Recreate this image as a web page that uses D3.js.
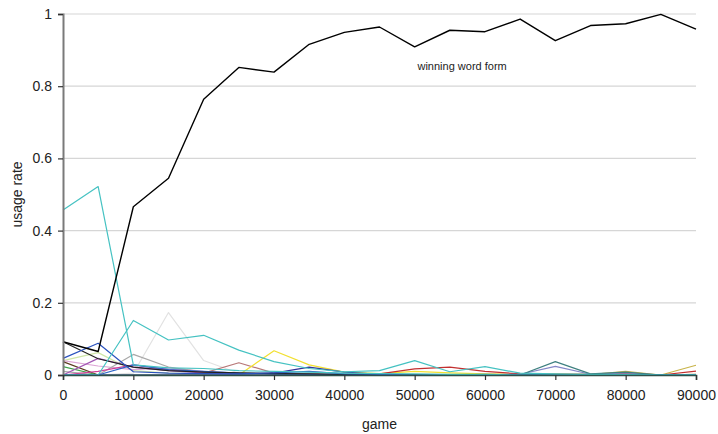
<!DOCTYPE html>
<html>
<head>
<meta charset="utf-8">
<script src="https://cdn.jsdelivr.net/npm/d3@7/dist/d3.min.js"></script>
<style>
  html, body { margin: 0; padding: 0; background: #fff; }
  svg text { font-family: "Liberation Sans", Arial, sans-serif; fill: #222; }
</style>
</head>
<body>
<svg id="chart" width="718" height="434"></svg>
<script>
// Game checkpoints (x axis)
const games = [0, 5000, 10000, 15000, 20000, 25000, 30000, 35000, 40000, 45000,
               50000, 55000, 60000, 65000, 70000, 75000, 80000, 85000, 90000];

// Usage rate of each word form at every checkpoint
const winning   = [0.092, 0.065, 0.466, 0.545, 0.764, 0.852, 0.839, 0.916, 0.949, 0.964, 0.909, 0.955, 0.951, 0.986, 0.926, 0.968, 0.973, 0.999, 0.958];
const cyanEarly = [0.457, 0.522, 0.028, 0.020, 0.018, 0.012, 0.010, 0.008, 0.005, 0.004, 0.003, 0.002, 0.002, 0, 0, 0, 0, 0, 0];
const cyanLate  = [0, 0, 0.151, 0.097, 0.110, 0.069, 0.037, 0.018, 0.009, 0.012, 0.040, 0.009, 0.023, 0.005, 0.003, 0.002, 0.001, 0, 0];
const blackLost = [0.092, 0.045, 0.022, 0.012, 0.008, 0.006, 0.004, 0.003, 0.002, 0.001, 0, 0, 0, 0, 0, 0, 0, 0, 0];
const blue      = [0.046, 0.088, 0.009, 0.005, 0.004, 0.003, 0.006, 0.010, 0.003, 0.002, 0, 0, 0, 0, 0, 0, 0, 0, 0];
const blue2     = [0, 0, 0.028, 0.015, 0.010, 0.005, 0.003, 0.002, 0.001, 0, 0, 0, 0, 0, 0, 0, 0, 0, 0];
const paleGreen = [0.040, 0.062, 0.012, 0.005, 0.003, 0, 0, 0, 0, 0, 0, 0, 0, 0, 0, 0, 0, 0, 0];
const purple    = [0, 0.046, 0.022, 0.012, 0.006, 0.003, 0.002, 0, 0, 0, 0, 0, 0, 0, 0, 0, 0, 0, 0];
const pink      = [0.040, 0.025, 0.015, 0.020, 0.010, 0.005, 0.002, 0, 0, 0, 0, 0, 0, 0, 0, 0, 0, 0, 0];
const magenta   = [0, 0.010, 0.028, 0.015, 0.008, 0.004, 0.002, 0, 0, 0, 0, 0, 0, 0, 0, 0, 0, 0, 0];
const brown     = [0.037, 0, 0, 0, 0, 0, 0, 0, 0, 0, 0, 0, 0, 0, 0, 0, 0, 0, 0];
const green     = [0.023, 0, 0, 0, 0, 0, 0, 0, 0, 0, 0, 0, 0, 0, 0, 0, 0, 0, 0];
const gray      = [0.010, 0, 0.057, 0.022, 0.008, 0.003, 0, 0, 0, 0, 0, 0, 0, 0, 0, 0, 0, 0, 0];
const lightGray = [0, 0, 0.005, 0.173, 0.040, 0.005, 0, 0, 0, 0, 0, 0, 0, 0, 0, 0, 0, 0, 0];
const rose      = [0, 0, 0, 0, 0.005, 0.034, 0.005, 0.003, 0.002, 0, 0, 0, 0, 0, 0, 0, 0, 0, 0];
const yellow    = [0, 0, 0, 0, 0, 0, 0.067, 0.028, 0.008, 0.004, 0.010, 0.006, 0.003, 0.002, 0.001, 0.002, 0.004, 0, 0.002];
const navy      = [0, 0, 0, 0, 0, 0.002, 0.005, 0.022, 0.008, 0.002, 0, 0, 0, 0, 0, 0, 0, 0, 0];
const red       = [0, 0, 0, 0, 0, 0, 0, 0, 0, 0.003, 0.017, 0.022, 0.010, 0.003, 0.002, 0.002, 0.004, 0, 0.011];
const teal      = [0, 0, 0, 0, 0, 0, 0, 0, 0, 0, 0, 0, 0.002, 0, 0.037, 0.003, 0.008, 0, 0];
const slate     = [0, 0, 0, 0, 0, 0, 0, 0, 0, 0, 0, 0, 0.001, 0.002, 0.024, 0.002, 0.006, 0, 0.002];
const olive     = [0, 0, 0, 0, 0, 0, 0, 0, 0, 0, 0, 0, 0, 0, 0.003, 0.001, 0.010, 0, 0.027];
const baseline  = [0, 0, 0, 0, 0, 0, 0, 0, 0, 0, 0, 0, 0, 0, 0, 0, 0, 0, 0];

// Axis tick values
const xTicks = [0, 10000, 20000, 30000, 40000, 50000, 60000, 70000, 80000, 90000];
const yTicks = [0, 0.2, 0.4, 0.6, 0.8, 1];

// Series drawn bottom-up; the winning form goes on top
const series = [
  { values: baseline,  color: "#1f5a4a" },
  { values: lightGray, color: "#e2e2e2" },
  { values: paleGreen, color: "#cfe6a8" },
  { values: pink,      color: "#dca6d6" },
  { values: gray,      color: "#a8a8a8" },
  { values: brown,     color: "#5b3a1e" },
  { values: green,     color: "#3fa34a" },
  { values: purple,    color: "#a256b4" },
  { values: magenta,   color: "#d0409a" },
  { values: rose,      color: "#b87878" },
  { values: yellow,    color: "#f2e030" },
  { values: olive,     color: "#c8b44a" },
  { values: red,       color: "#c23030" },
  { values: navy,      color: "#34349a" },
  { values: slate,     color: "#8486c8" },
  { values: teal,      color: "#3f8080" },
  { values: blue2,     color: "#2f66c8" },
  { values: blackLost, color: "#222222" },
  { values: blue,      color: "#2a52be" },
  { values: cyanLate,  color: "#45c2c2" },
  { values: cyanEarly, color: "#45c2c2" },
  { values: winning,   color: "#000000" }
];

const svg = d3.select("#chart");
const margin = { left: 63, right: 22, top: 14, bottom: 59 };
const W = 718, H = 434;

const x = d3.scaleLinear().domain([0, 90000]).range([margin.left, W - margin.right]);
const y = d3.scaleLinear().domain([0, 1]).range([H - margin.bottom, margin.top]);

// Horizontal gridlines
svg.append("g")
  .selectAll("line")
  .data(yTicks.filter(d => d > 0))
  .join("line")
  .attr("x1", x(0)).attr("x2", x(90000))
  .attr("y1", d => y(d)).attr("y2", d => y(d))
  .attr("stroke", "#d6d6d6").attr("stroke-width", 1.2);

// Lines
const line = d3.line().x((d, i) => x(games[i])).y(d => y(d));
svg.append("g")
  .selectAll("path")
  .data(series)
  .join("path")
  .attr("d", s => line(s.values))
  .attr("fill", "none")
  .attr("stroke", s => s.color)
  .attr("stroke-width", s => s.color === "#000000" ? 1.4 : 1.2)
  .attr("stroke-linejoin", "round");

// Y axis
const yAxis = svg.append("g")
  .attr("transform", `translate(${x(0)},0)`)
  .call(d3.axisLeft(y).tickValues(yTicks).tickFormat(d3.format("")).tickSize(5).tickPadding(6));
yAxis.select(".domain").attr("stroke", "#7a7a7a").attr("stroke-width", 2);
yAxis.selectAll(".tick line").attr("stroke", "#333").attr("stroke-width", 1.2);
yAxis.selectAll("text").attr("font-size", 14).style("fill", "#222");

// X axis
const xAxis = svg.append("g")
  .attr("transform", `translate(0,${y(0)})`)
  .call(d3.axisBottom(x).tickValues(xTicks).tickFormat(d3.format("d")).tickSize(5).tickPadding(10));
xAxis.select(".domain").attr("stroke", "#2f4f4a").attr("stroke-width", 1.6);
xAxis.selectAll(".tick line").attr("stroke", "#333").attr("stroke-width", 1.2);
xAxis.selectAll("text").attr("font-size", 14).style("fill", "#222");

// Axis titles
svg.append("text")
  .attr("x", (x(0) + x(90000)) / 2).attr("y", 429)
  .attr("text-anchor", "middle").attr("font-size", 14)
  .text("game");
svg.append("text")
  .attr("transform", `translate(22,${y(0.5)}) rotate(-90)`)
  .attr("text-anchor", "middle").attr("font-size", 14)
  .text("usage rate");

// Annotation for the dominant form
svg.append("text")
  .attr("x", x(50400)).attr("y", 70)
  .attr("font-size", 11)
  .text("winning word form");
</script>
</body>
</html>
